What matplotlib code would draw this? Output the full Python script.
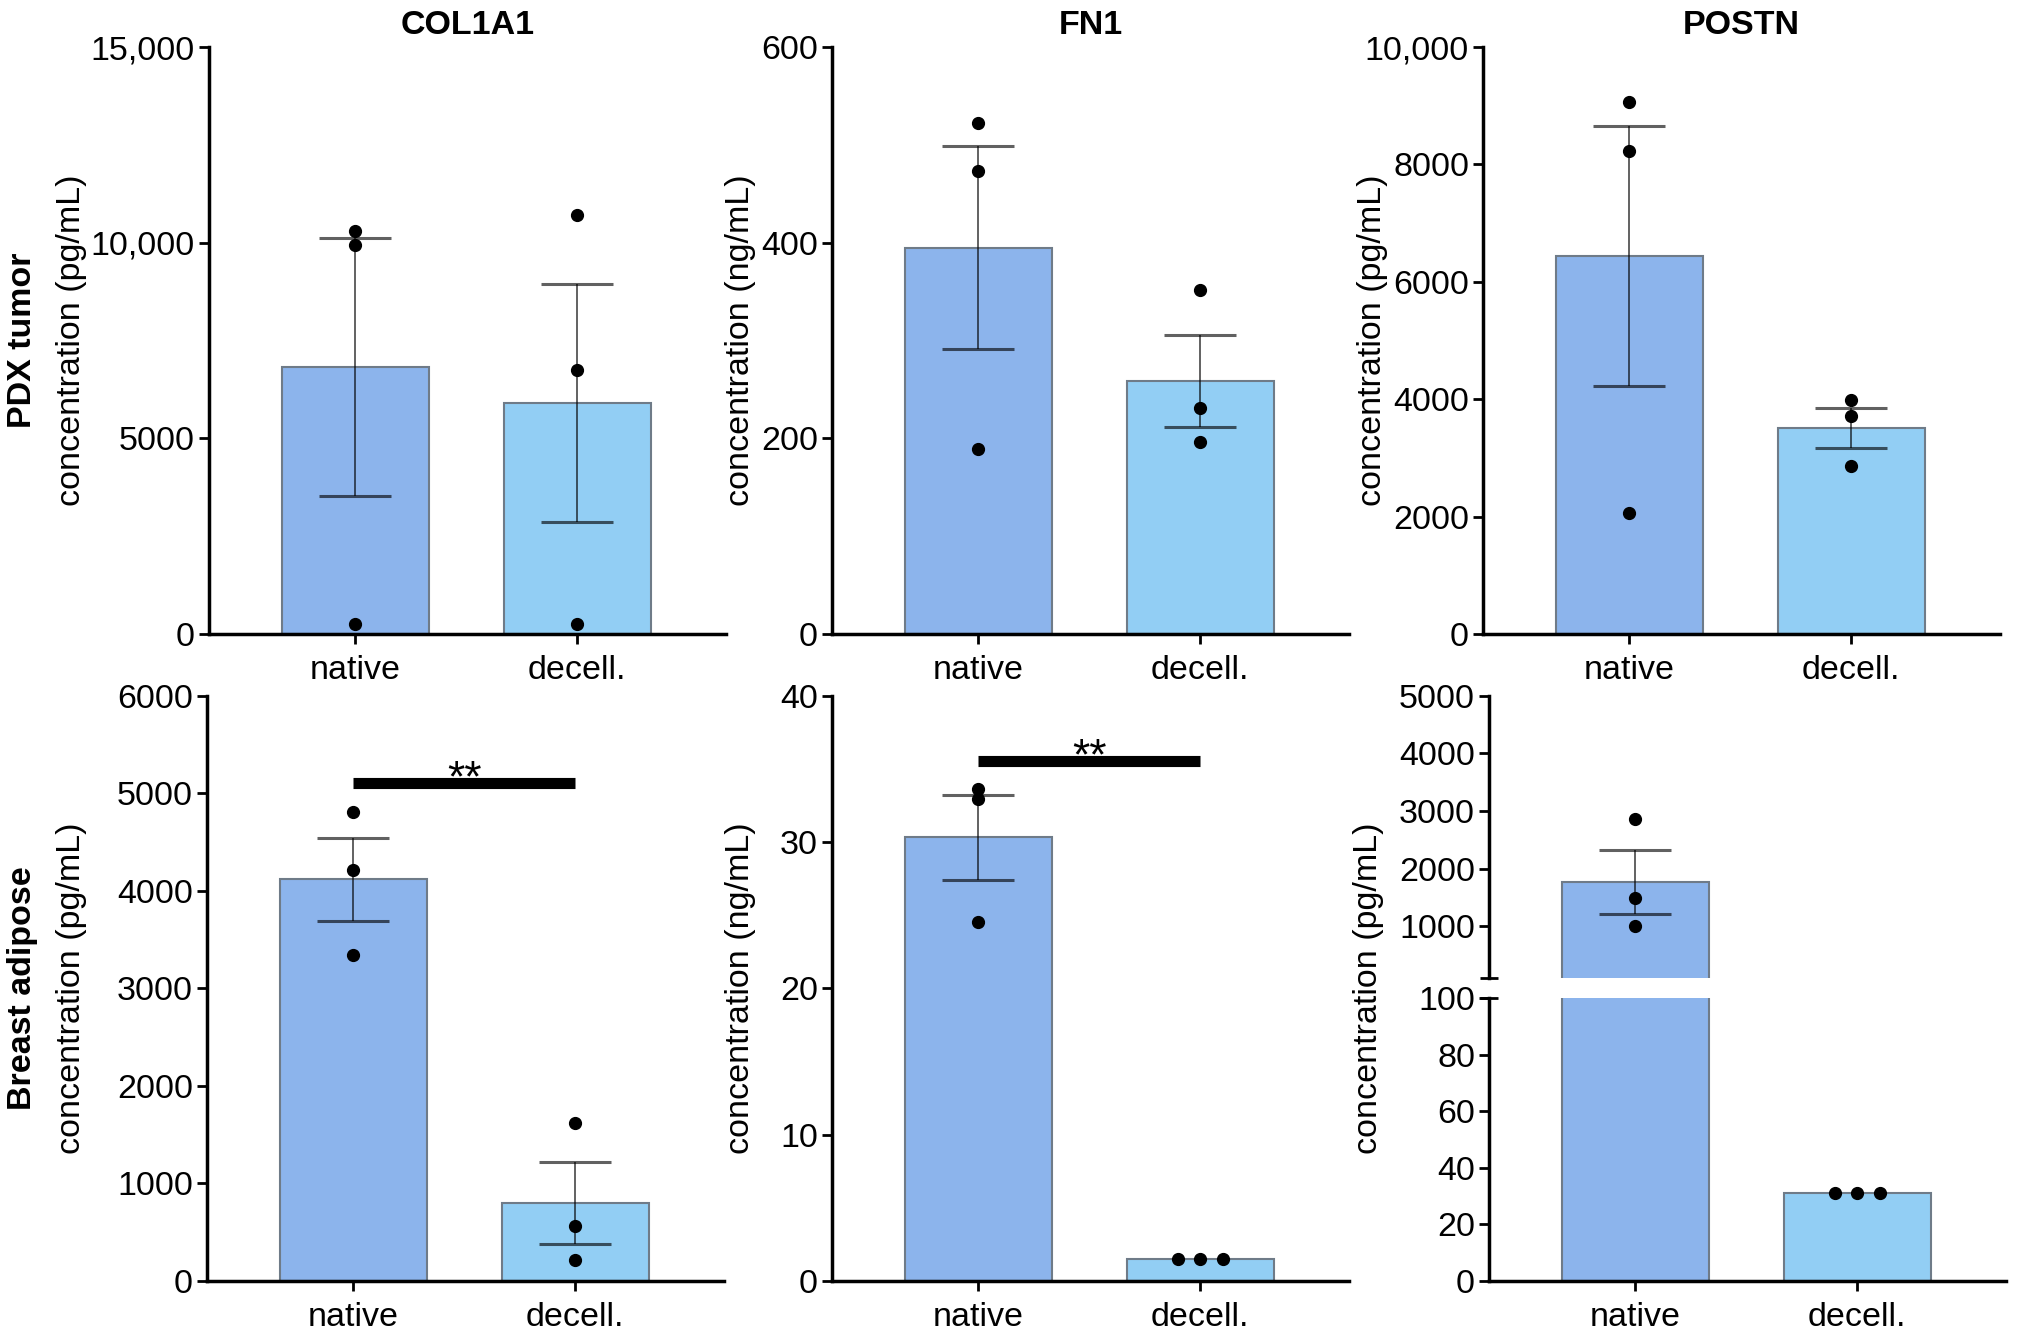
import matplotlib
matplotlib.use("Agg")
import matplotlib.pyplot as plt
from matplotlib.ticker import FixedLocator
import numpy as np

plt.rcParams['font.family'] = ['Liberation Sans', 'DejaVu Sans']

# ---------------- data ----------------
groups = ["native", "decell."]
genes = ["COL1A1", "FN1", "POSTN"]
rows = ["PDX tumor", "Breast adipose"]
units = ["concentration (pg/mL)", "concentration (ng/mL)", "concentration (pg/mL)"]

# PDX tumor
col1a1_pdx_mean = [6820, 5900]
col1a1_pdx_sem = [3290, 3040]
col1a1_pdx_native_pts = [10290, 9950, 250]
col1a1_pdx_decell_pts = [10710, 6750, 260]

fn1_pdx_mean = [395, 259]
fn1_pdx_sem = [104, 47]
fn1_pdx_native_pts = [522, 473, 189]
fn1_pdx_decell_pts = [352, 231, 196]

postn_pdx_mean = [6440, 3510]
postn_pdx_sem = [2210, 335]
postn_pdx_native_pts = [9060, 8220, 2060]
postn_pdx_decell_pts = [3980, 3710, 2870]

# Breast adipose
col1a1_ba_mean = [4115, 795]
col1a1_ba_sem = [425, 420]
col1a1_ba_native_pts = [4810, 4210, 3340]
col1a1_ba_decell_pts = [1620, 565, 215]

fn1_ba_mean = [30.3, 1.5]
fn1_ba_sem = [2.9, 0.0]
fn1_ba_native_pts = [33.6, 32.9, 24.5]
fn1_ba_decell_pts = [1.5, 1.5, 1.5]

postn_ba_mean = [1770, 31]
postn_ba_sem = [555, 0.0]
postn_ba_native_pts = [2865, 1490, 1007]
postn_ba_decell_pts = [31, 31, 31]

# significance bars (y level, label)
col1a1_ba_sig = (5103, "**")
fn1_ba_sig = (35.5, "**")

# tick values / labels
col1a1_pdx_ticks = [0, 5000, 10000, 15000]
col1a1_pdx_ticklabels = ["0", "5000", "10,000", "15,000"]
fn1_pdx_ticks = [0, 200, 400, 600]
postn_pdx_ticks = [0, 2000, 4000, 6000, 8000, 10000]
postn_pdx_ticklabels = ["0", "2000", "4000", "6000", "8000", "10,000"]
col1a1_ba_ticks = [0, 1000, 2000, 3000, 4000, 5000, 6000]
fn1_ba_ticks = [0, 10, 20, 30, 40]
postn_ba_upper_ticks = [1000, 2000, 3000, 4000, 5000]
postn_ba_lower_ticks = [0, 20, 40, 60, 80, 100]
postn_ba_break = 100  # upper segment starts here

# point x-offsets (equal values spread horizontally)
no_jitter = [0, 0, 0]
spread_jitter = [-0.1, 0, 0.1]

# ---------------- style ----------------
W, H = 2020, 1342
fig = plt.figure(figsize=(W / 100, H / 100), dpi=100)
colors = ["#8CB4EC", "#92CEF4"]
edge = "#6f7b88"
FS = 24.5
BARW = 0.66
XLIM = (-0.66, 1.67)
MS = 8.5
x = np.arange(len(groups))


def style_axis(ax):
    for s in ["top", "right"]:
        ax.spines[s].set_visible(False)
    ax.spines["left"].set_linewidth(2.5)
    ax.spines["bottom"].set_linewidth(2.5)
    ax.tick_params(axis="both", labelsize=FS, width=2.0, length=7, direction="out")
    ax.tick_params(axis="x", pad=8)
    ax.tick_params(axis="y", pad=3)
    ax.set_xlim(*XLIM)
    ax.set_xticks(x)
    ax.set_xticklabels(groups)


def draw_panel(ax, means, sems, pts_list, jitters):
    ax.bar(x, means, width=BARW, color=colors, edgecolor=edge, linewidth=1.5, zorder=2)
    for i in range(len(groups)):
        if sems[i] > 0:
            ax.errorbar(x[i], means[i], yerr=sems[i], fmt="none", ecolor="black",
                        alpha=0.62, elinewidth=1.4, capsize=26, capthick=2.2, zorder=3)
        ax.plot(x[i] + np.array(jitters[i]), pts_list[i], "o", color="black",
                markersize=MS, zorder=4, clip_on=False)


def sig_bar(ax, level, label):
    ax.plot([x[0], x[1]], [level, level], color="black", linewidth=8,
            solid_capstyle="butt", zorder=5)
    ax.annotate(label, xy=(np.mean(x), level), xytext=(0, -6), textcoords="offset points",
                ha="center", va="baseline", fontsize=32, zorder=6)


lefts = [209 / W, 832 / W, 1483 / W]
AW = 517 / W
top_row = (1 - 634 / H, (634 - 47) / H)
bot_row = (1 - 1281 / H, (1281 - 695.5) / H)

# ---- top row ----
top_data = [
    (col1a1_pdx_mean, col1a1_pdx_sem, [col1a1_pdx_native_pts, col1a1_pdx_decell_pts],
     col1a1_pdx_ticks, col1a1_pdx_ticklabels),
    (fn1_pdx_mean, fn1_pdx_sem, [fn1_pdx_native_pts, fn1_pdx_decell_pts],
     fn1_pdx_ticks, [str(t) for t in fn1_pdx_ticks]),
    (postn_pdx_mean, postn_pdx_sem, [postn_pdx_native_pts, postn_pdx_decell_pts],
     postn_pdx_ticks, postn_pdx_ticklabels),
]
ylabel_x = [72, 740, 1372]
for j, (m, s, p, tk, tl) in enumerate(top_data):
    ax = fig.add_axes([lefts[j], top_row[0], AW, top_row[1]])
    draw_panel(ax, m, s, p, [no_jitter, no_jitter])
    style_axis(ax)
    ax.set_ylim(tk[0], tk[-1])
    ax.set_yticks(tk)
    ax.set_yticklabels(tl)
    ax.set_title(genes[j], fontsize=FS, fontweight="bold", pad=9)
    fig.text(ylabel_x[j] / W, top_row[0] + top_row[1] / 2, units[j], rotation=90,
             ha="center", va="center", fontsize=FS)

# ---- bottom row: COL1A1 ----
ax = fig.add_axes([207 / W, bot_row[0], AW, bot_row[1]])
draw_panel(ax, col1a1_ba_mean, col1a1_ba_sem, [col1a1_ba_native_pts, col1a1_ba_decell_pts],
           [no_jitter, no_jitter])
style_axis(ax)
ax.set_ylim(col1a1_ba_ticks[0], col1a1_ba_ticks[-1])
ax.set_yticks(col1a1_ba_ticks)
sig_bar(ax, *col1a1_ba_sig)

# ---- bottom row: FN1 ----
ax = fig.add_axes([832 / W, bot_row[0], AW, bot_row[1]])
draw_panel(ax, fn1_ba_mean, fn1_ba_sem, [fn1_ba_native_pts, fn1_ba_decell_pts],
           [no_jitter, spread_jitter])
style_axis(ax)
ax.set_ylim(fn1_ba_ticks[0], fn1_ba_ticks[-1])
ax.set_yticks(fn1_ba_ticks)
sig_bar(ax, *fn1_ba_sig)

# ---- bottom row: POSTN (broken axis) ----
bl = 1489 / W
up = fig.add_axes([bl, 1 - 978 / H, AW, (978 - 695.7) / H])
lo = fig.add_axes([bl, 1 - 1281 / H, AW, (1281 - 998) / H])
for a in (up, lo):
    a.bar(x, postn_ba_mean, width=BARW, color=colors, edgecolor=edge, linewidth=1.5, zorder=2)
    style_axis(a)

for i, pts in enumerate([postn_ba_native_pts, postn_ba_decell_pts]):
    if postn_ba_mean[i] > postn_ba_break:
        up.errorbar(x[i], postn_ba_mean[i], yerr=postn_ba_sem[i], fmt="none", ecolor="black",
                    alpha=0.62, elinewidth=1.4, capsize=26, capthick=2.2, zorder=3)
        up.plot(np.full(3, x[i]) + np.array(no_jitter), pts, "o", color="black",
                markersize=MS, zorder=4)
    else:
        lo.plot(np.full(3, x[i]) + np.array(spread_jitter), pts, "o", color="black",
                markersize=MS, zorder=4, clip_on=False)
up.set_ylim(postn_ba_break, postn_ba_upper_ticks[-1])
up.set_yticks(postn_ba_upper_ticks)
up.spines["bottom"].set_visible(False)
up.tick_params(axis="x", bottom=False, labelbottom=False)
up.yaxis.set_minor_locator(FixedLocator([postn_ba_break]))
up.tick_params(axis="y", which="minor", direction="inout", length=13, width=2.0)

lo.set_ylim(postn_ba_lower_ticks[0], postn_ba_lower_ticks[-1])
lo.set_yticks(postn_ba_lower_ticks)
lo.yaxis.remove_overlapping_locs = False
lo.yaxis.set_minor_locator(FixedLocator([postn_ba_lower_ticks[-1]]))
lo.tick_params(axis="y", which="minor", direction="inout", length=13, width=2.0)

fig.text(1369 / W, bot_row[0] + bot_row[1] / 2, units[2], rotation=90,
         ha="center", va="center", fontsize=FS)

# y labels for bottom-left / bottom-mid
fig.text(72 / W, bot_row[0] + bot_row[1] / 2, units[0], rotation=90,
         ha="center", va="center", fontsize=FS)
fig.text(740 / W, bot_row[0] + bot_row[1] / 2, units[1], rotation=90,
         ha="center", va="center", fontsize=FS)

# row labels
fig.text(23 / W, top_row[0] + top_row[1] / 2, rows[0], rotation=90, ha="center",
         va="center", fontsize=FS, fontweight="bold")
fig.text(23 / W, bot_row[0] + bot_row[1] / 2, rows[1], rotation=90, ha="center",
         va="center", fontsize=FS, fontweight="bold")

fig.savefig("out.png", dpi=100)
